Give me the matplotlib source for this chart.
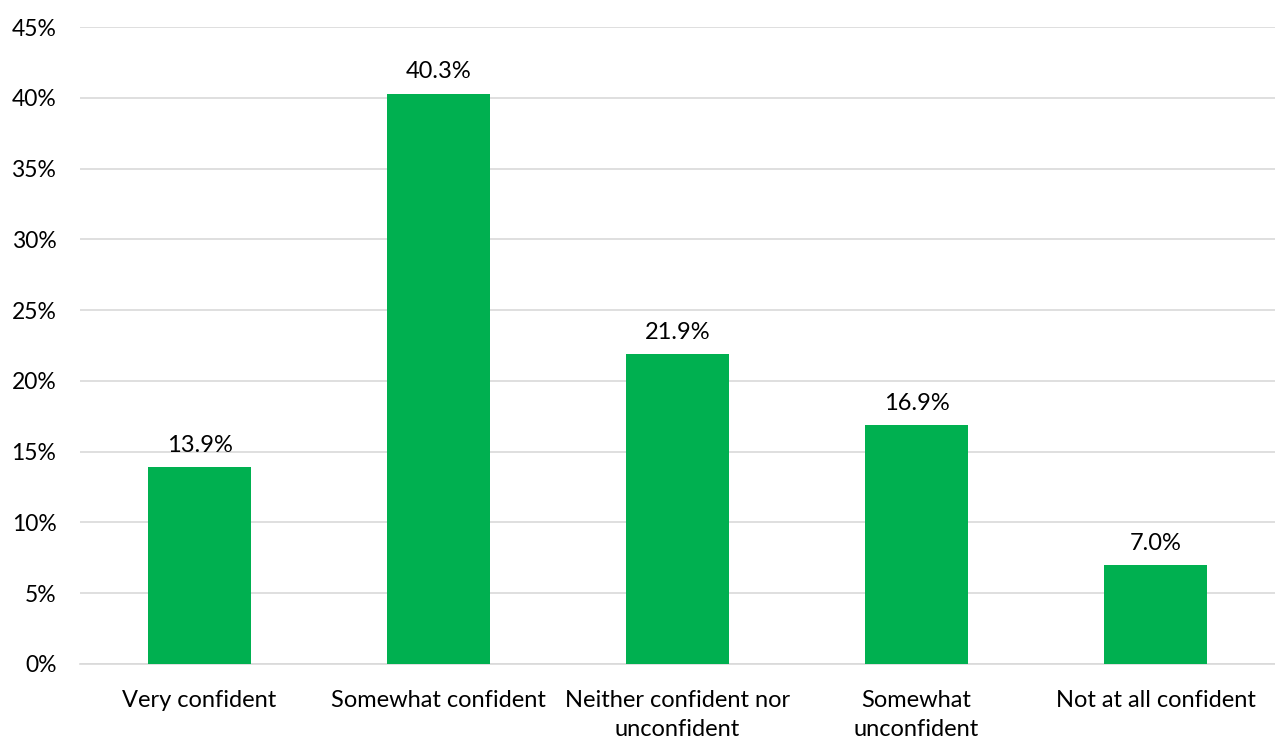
import matplotlib
matplotlib.use("Agg")
import matplotlib.pyplot as plt
from matplotlib.ticker import PercentFormatter

categories = ["Very confident", "Somewhat confident", "Neither confident nor\nunconfident",
              "Somewhat\nunconfident", "Not at all confident"]
values = [13.9, 40.3, 21.9, 16.9, 7.0]
yticks = [0, 5, 10, 15, 20, 25, 30, 35, 40, 45]

plt.rcParams["font.family"] = ["Lato", "DejaVu Sans"]

fig = plt.figure(figsize=(12.75, 7.4), dpi=100)
ax = fig.add_axes([80 / 1275, 76 / 740, 1195 / 1275, 637 / 740])

x = range(len(categories))
bars = ax.bar(x, values, width=0.435, color="#00B050", zorder=3)
for b, v in zip(bars, values):
    ax.annotate(f"{v:.1f}%", (b.get_x() + b.get_width() / 2, v),
                xytext=(0, 8), textcoords="offset points",
                ha="center", va="bottom", fontsize=17, color="#000000")

ax.set_xlim(-0.5, len(categories) - 0.5)
ax.set_ylim(0, 45)
ax.set_yticks(yticks)
ax.yaxis.set_major_formatter(PercentFormatter(decimals=0))
ax.set_xticks(list(x))
ax.set_xticklabels(categories, fontsize=17, linespacing=1.45)
ax.tick_params(axis="y", length=0, pad=17, labelsize=16.5)
ax.tick_params(axis="x", length=0, pad=19)
ax.grid(axis="y", color="#D9D9D9", linewidth=1.2, zorder=0)
for s in ["top", "right", "left"]:
    ax.spines[s].set_visible(False)
ax.spines["bottom"].set_color("#D9D9D9")
ax.spines["bottom"].set_linewidth(1.2)

fig.savefig("out.png", dpi=100)
